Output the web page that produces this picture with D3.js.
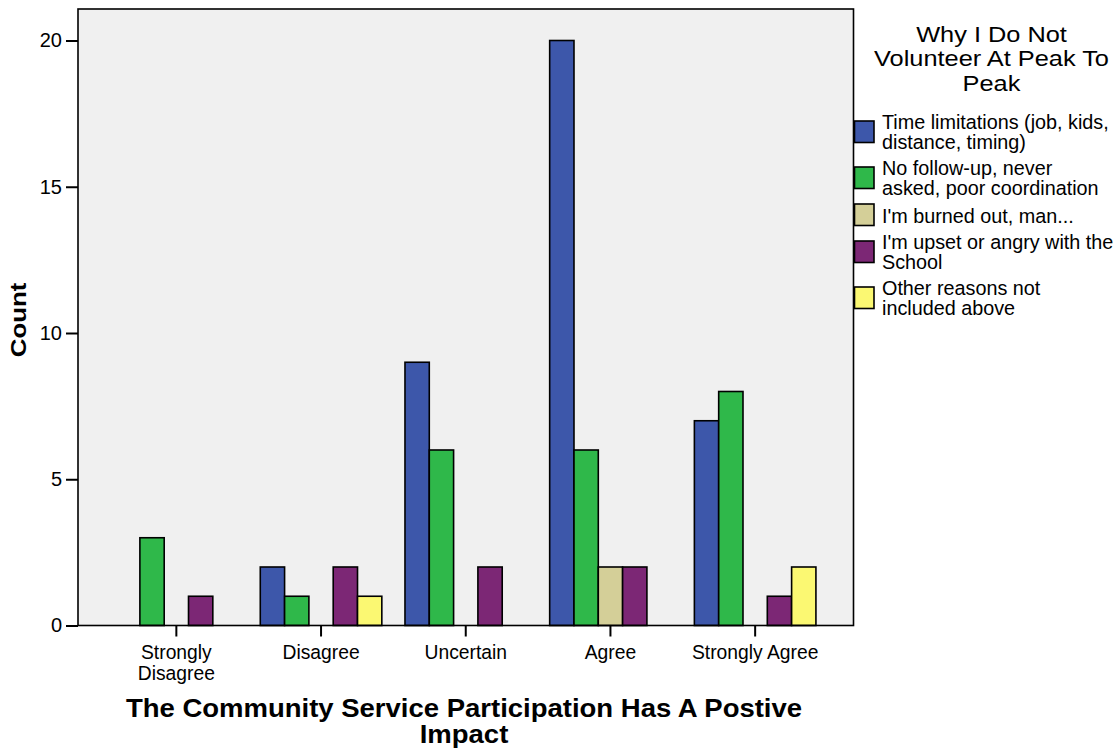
<!DOCTYPE html>
<html>
<head>
<meta charset="utf-8">
<script src="https://cdn.jsdelivr.net/npm/d3@7"></script>
<style>
  html, body { margin: 0; padding: 0; background: #fff; }
  svg { display: block; font-family: "Liberation Sans", Arial, sans-serif; }
</style>
</head>
<body>
<svg id="chart" width="1120" height="751"></svg>
<script>
// Response categories on the x axis
const categories = ["Strongly Disagree", "Disagree", "Uncertain", "Agree", "Strongly Agree"];
const categoryLines = [["Strongly", "Disagree"], ["Disagree"], ["Uncertain"], ["Agree"], ["Strongly Agree"]];

// Reasons (series) and their legend text
const reasons = ["time", "followup", "burned", "upset", "other"];
const reasonLabels = [
  ["Time limitations (job, kids,", "distance, timing)"],
  ["No follow-up, never", "asked, poor coordination"],
  ["I'm burned out, man..."],
  ["I'm upset or angry with the", "School"],
  ["Other reasons not", "included above"]
];
const reasonColors = ["#3d57aa", "#2fb84a", "#d4cf98", "#7c2775", "#fbf872"];

// Counts per reason, one value per category
const timeCounts     = [0, 2, 9, 20, 7];
const followupCounts = [3, 1, 6, 6, 8];
const burnedCounts   = [0, 0, 0, 2, 0];
const upsetCounts    = [1, 2, 2, 2, 1];
const otherCounts    = [0, 1, 0, 0, 2];
const seriesCounts = [timeCounts, followupCounts, burnedCounts, upsetCounts, otherCounts];

const yTicks = [0, 5, 10, 15, 20];

const svg = d3.select("#chart");
const plot = { left: 78, top: 9, right: 853.5, bottom: 625.5 };

const x0 = d3.scaleBand()
  .domain(categories)
  .range([plot.left + 26, plot.right - 26])
  .paddingInner(0.16)
  .paddingOuter(0.08);

const x1 = d3.scaleBand()
  .domain(reasons)
  .range([0, x0.bandwidth()]);

const y = d3.scaleLinear()
  .domain([0, 20])
  .range([plot.bottom, 40.5]);

// Multi-line text, optionally widened along its baseline
function stretchedText(parent, lines, opts) {
  const g = parent.append("g")
    .attr("transform", `translate(${opts.x},${opts.y}) rotate(${opts.rotate || 0}) scale(${opts.sx || 1},1)`);
  const t = g.append("text")
    .attr("text-anchor", opts.anchor || "start")
    .attr("font-size", opts.size)
    .attr("font-weight", opts.weight || "normal")
    .attr("fill", "#000");
  lines.forEach((line, i) => {
    t.append("tspan").attr("x", 0).attr("y", i * (opts.lineHeight || 0)).text(line);
  });
  return g;
}

// Plot background
svg.append("rect")
  .attr("x", plot.left).attr("y", plot.top)
  .attr("width", plot.right - plot.left)
  .attr("height", plot.bottom - plot.top)
  .attr("fill", "#f0f0f0");

// Bars
const rows = [];
seriesCounts.forEach((vals, si) => {
  vals.forEach((v, ci) => {
    if (v > 0) rows.push({ cat: categories[ci], reason: reasons[si], value: v, color: reasonColors[si] });
  });
});

svg.append("g").selectAll("rect")
  .data(rows)
  .join("rect")
  .attr("x", d => x0(d.cat) + x1(d.reason))
  .attr("y", d => y(d.value))
  .attr("width", x1.bandwidth())
  .attr("height", d => y(0) - y(d.value))
  .attr("fill", d => d.color)
  .attr("stroke", "#000")
  .attr("stroke-width", 1.6);

// Plot frame
svg.append("rect")
  .attr("x", plot.left).attr("y", plot.top)
  .attr("width", plot.right - plot.left)
  .attr("height", plot.bottom - plot.top)
  .attr("fill", "none")
  .attr("stroke", "#000")
  .attr("stroke-width", 1.6);

// Y axis
const yAxis = svg.append("g")
  .attr("transform", `translate(${plot.left},0)`)
  .call(d3.axisLeft(y).tickValues(yTicks).tickSize(12).tickPadding(4).tickFormat(d3.format("d")));
yAxis.select(".domain").remove();
yAxis.selectAll(".tick line").attr("stroke", "#000").attr("stroke-width", 2);
yAxis.selectAll(".tick text")
  .attr("font-size", 20)
  .attr("fill", "#000")
  .attr("font-family", "Liberation Sans, Arial, sans-serif");

// X axis
const xAxis = svg.append("g")
  .attr("transform", `translate(0,${plot.bottom})`)
  .call(d3.axisBottom(x0).tickSize(11).tickFormat(""));
xAxis.select(".domain").remove();
xAxis.selectAll(".tick line").attr("stroke", "#000").attr("stroke-width", 2);
xAxis.selectAll(".tick").each(function(d, i) {
  const t = d3.select(this).append("text")
    .attr("fill", "#000")
    .attr("font-size", 19.3)
    .attr("text-anchor", "middle")
    .attr("font-family", "Liberation Sans, Arial, sans-serif");
  categoryLines[i].forEach((line, li) => {
    t.append("tspan").attr("x", 0).attr("y", 33.5 + li * 20.5).text(line);
  });
});

// Axis titles
stretchedText(svg, ["Count"], { x: 26, y: 320, rotate: -90, sx: 1.2, size: 21.5, weight: "bold", anchor: "middle" });
stretchedText(svg, ["The Community Service Participation Has A Postive", "Impact"],
  { x: 464, y: 716.5, sx: 1.1, size: 25, weight: "bold", anchor: "middle", lineHeight: 27 });

// Legend
const legend = svg.append("g");
stretchedText(legend, ["Why I Do Not", "Volunteer At Peak To", "Peak"],
  { x: 991.5, y: 41.7, sx: 1.18, size: 21.5, anchor: "middle", lineHeight: 24.6 });

const swatchY = [121, 167, 204, 241, 287];
reasons.forEach((r, i) => {
  legend.append("rect")
    .attr("x", 854.5).attr("y", swatchY[i])
    .attr("width", 19.5).attr("height", 21.5)
    .attr("fill", reasonColors[i])
    .attr("stroke", "#000")
    .attr("stroke-width", 1.6);
  const lines = reasonLabels[i];
  const top = lines.length === 1 ? swatchY[i] + 18.7 : swatchY[i] + 8;
  stretchedText(legend, lines, { x: 882, y: top, size: 19.5, sx: 1.015, lineHeight: 20.3 });
});
</script>
</body>
</html>
